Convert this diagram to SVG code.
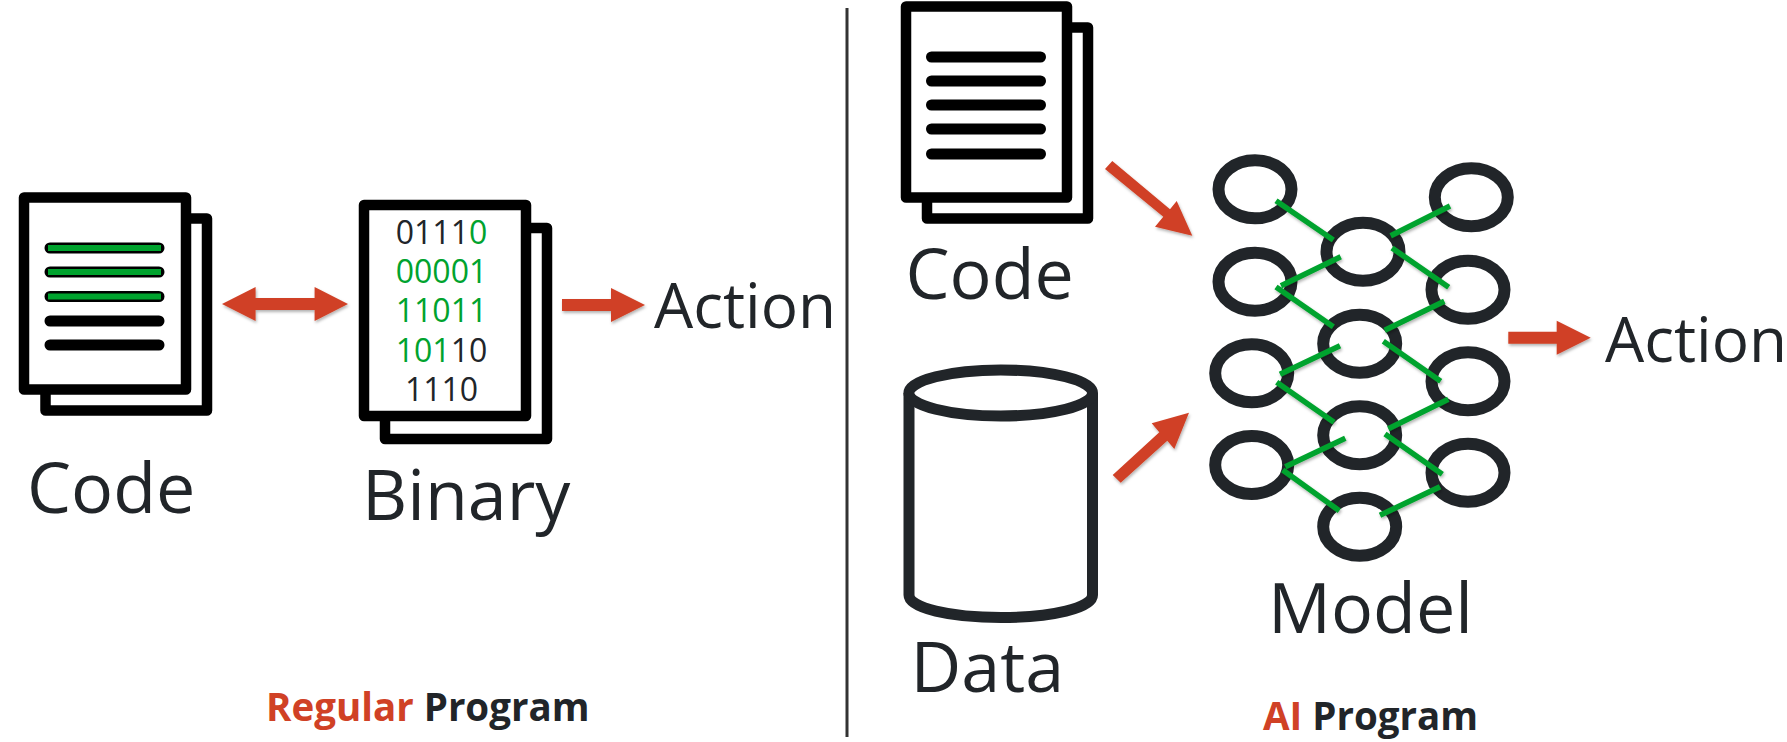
<svg xmlns="http://www.w3.org/2000/svg" width="1787" height="742" viewBox="0 0 1787 742">
<style>
  text { font-family: "Open Sans", "Noto Sans", sans-serif; }
  .label { font-size: 70px; fill: #212529; }
  .action { font-size: 62px; fill: #212529; }
  .digits { font-size: 32px; fill: #212529; text-anchor: middle; }
  .green { fill: #00a32e; }
  .caption { font-size: 38.500px; font-weight: 700; fill: #212529; }
  .red { fill: #d04125; }
  .sheet { fill: #fff; stroke: #000; stroke-width: 10.500; stroke-linejoin: round; }
  .rule { stroke: #000; stroke-width: 11; stroke-linecap: round; fill: none; }
  .rule-green { stroke: #00a32e; stroke-width: 6; fill: none; }
  .neuron { fill: none; stroke: #212529; stroke-width: 12; }
  .synapse { stroke: #00a32e; stroke-width: 5.500; fill: none; filter: url(#soft); }
  .arrow { fill: #d04125; filter: url(#soft); }
</style>
<defs>
  <filter id="soft" x="-20%" y="-30%" width="140%" height="170%">
    <feDropShadow dx="1" dy="2" stdDeviation="1.500" flood-color="#000" flood-opacity="0.3"/>
  </filter>
</defs>
<rect width="1787" height="742" fill="#fff"/>

<g id="code-left">
  <rect class="sheet" x="45.500" y="218.500" width="161.500" height="192"/>
  <rect class="sheet" x="24" y="197.500" width="162" height="192"/>
  <path class="rule" d="M50 248H159M50 272H159M50 296.500H159M50 321H159M50 345H159"/>
  <path class="rule-green" d="M48 248H161M48 272H161M48 296.500H161"/>
  <text class="label" x="27" y="512.500">Code</text>
</g>

<g id="binary">
  <rect class="sheet" x="385" y="228" width="162" height="211"/>
  <rect class="sheet" x="364" y="205" width="162" height="211"/>
  <text class="digits" x="441.500" y="243.500">0111<tspan class="green">0</tspan></text>
  <text class="digits green" x="441.500" y="282.500">00001</text>
  <text class="digits green" x="441.500" y="321.500">11011</text>
  <text class="digits" x="441.500" y="361.500"><tspan class="green">101</tspan>10</text>
  <text class="digits" x="441.500" y="401">1110</text>
  <text class="label" x="362" y="520">Binary</text>
</g>

<text id="action-left" class="action" x="654" y="328">Action</text>
<text id="caption-left" class="caption" x="266" y="721">
  <tspan class="red">Regular</tspan> Program</text>

<line id="divider" x1="847" y1="8" x2="847" y2="737" stroke="#333" stroke-width="3"/>

<g id="code-right">
  <rect class="sheet" x="927" y="27.500" width="161" height="191"/>
  <rect class="sheet" x="906" y="6.500" width="161" height="191"/>
  <path class="rule" d="M931.500 57H1040.500M931.500 81H1040.500M931.500 105H1040.500M931.500 129H1040.500M931.500 154H1040.500"/>
  <text class="label" x="905.500" y="299">Code</text>
</g>

<g id="data">
  <path d="M909 393V595C909 608 950 617.500 1001 617.500C1052 617.500 1092.500 608 1092.500 595V393" fill="#fff" stroke="#212529" stroke-width="11"/>
  <ellipse cx="1000.700" cy="393" rx="91.800" ry="23" fill="#fff" stroke="#212529" stroke-width="11"/>
  <text class="label" x="910.500" y="692">Data</text>
</g>

<g id="model">
  <g class="neuron">
    <ellipse cx="1255" cy="189.300" rx="36.500" ry="29"/>
    <ellipse cx="1255" cy="281.700" rx="36.500" ry="29"/>
    <ellipse cx="1251.700" cy="373.300" rx="36.500" ry="29"/>
    <ellipse cx="1251.700" cy="465" rx="36.500" ry="29"/>
    <ellipse cx="1363" cy="251.700" rx="36.500" ry="29"/>
    <ellipse cx="1359.700" cy="343.700" rx="36.500" ry="29"/>
    <ellipse cx="1359.700" cy="435.300" rx="36.500" ry="29"/>
    <ellipse cx="1359.700" cy="526.700" rx="36.500" ry="29"/>
    <ellipse cx="1471.300" cy="197.300" rx="36.500" ry="29"/>
    <ellipse cx="1468" cy="289.700" rx="36.500" ry="29"/>
    <ellipse cx="1468" cy="381.300" rx="36.500" ry="29"/>
    <ellipse cx="1468" cy="472.700" rx="36.500" ry="29"/>
  </g>
  <text class="label" x="1268" y="633">Model</text>
</g>

<g id="connectors">
  <path class="synapse" d="M1276 200.700L1333.300 240M1340.700 256.700L1281 285.700M1276 287L1333.300 326.700M1340 345.700L1280 374.300M1276.700 382.300L1334 422.300M1345.300 438.300L1285.300 466.700M1282.700 470L1339.300 510.700M1450 206L1390.700 235.700M1392 248L1448.700 287.300M1444.300 301.300L1384.700 330.300M1383.300 341.300L1440.700 381.300M1448.300 399.300L1388.300 428.700M1385 434L1442.300 474.300M1440 486.700L1380 515.300"/>
  <path class="arrow" d="M222 304L255.600 287V298H314.600V287L348 304L314.600 321V310H255.600V321Z"/>
  <path class="arrow" d="M562 299H611V288L645 305L611 322V311H562Z"/>
  <path class="arrow" d="M1508.300 331.700H1556.700V320.700L1590.700 337.700L1556.700 354.700V343.700H1508.300Z"/>
  <path class="arrow" d="M1105 169L1112.300 161L1170 209.300L1176.700 201L1192.300 235.700L1155 226.700L1163.300 216.700Z"/>
  <path class="arrow" d="M1112.700 475L1159.300 432.300L1151.700 423.300L1189 412.700L1174.300 449L1167.300 440.700L1120.700 482.700Z"/>
</g>

<text id="action-right" class="action" x="1605" y="362">Action</text>
<text id="caption-right" class="caption" x="1263" y="729.500"><tspan class="red">AI</tspan> Program</text>
</svg>
